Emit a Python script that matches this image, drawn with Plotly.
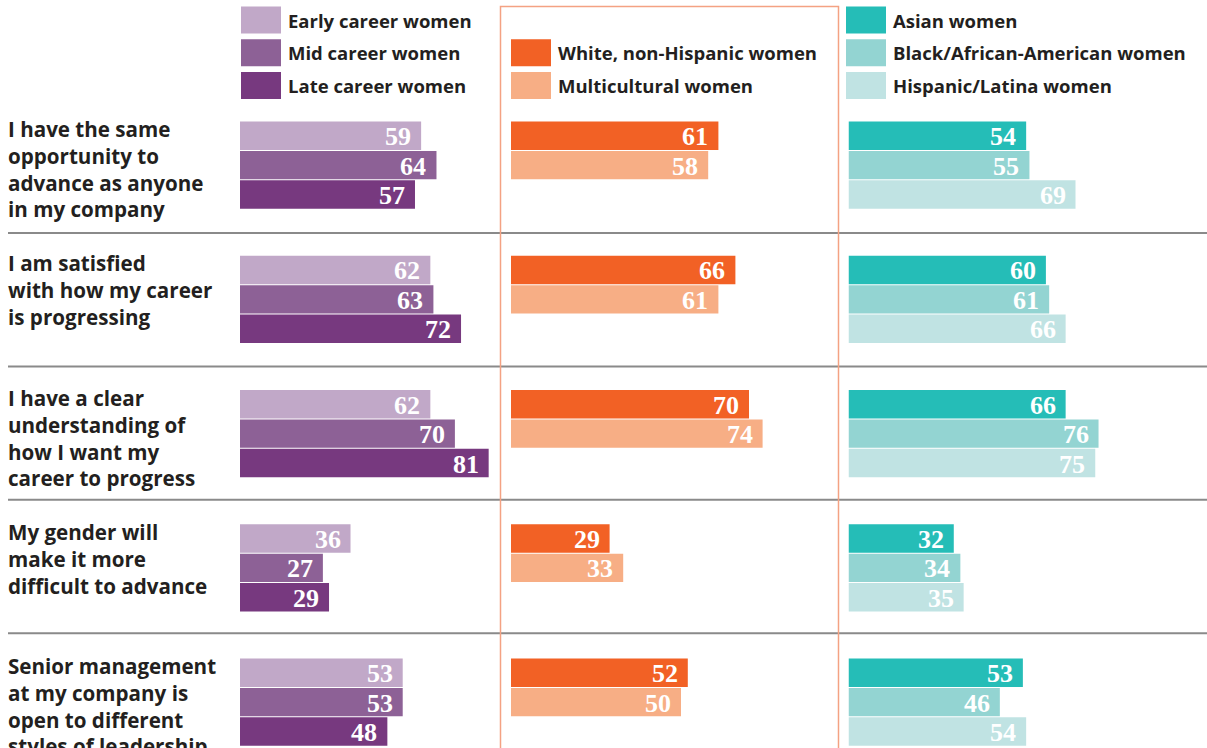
import plotly.graph_objects as go

# ---------------- data ----------------
questions = [
    "I have the same<br>opportunity to<br>advance as anyone<br>in my company",
    "I am satisfied<br>with how my career<br>is progressing",
    "I have a clear<br>understanding of<br>how I want my<br>career to progress",
    "My gender will<br>make it more<br>difficult to advance",
    "Senior management<br>at my company is<br>open to different<br>styles of leadership",
]

career_names = ["Early career women", "Mid career women", "Late career women"]
early = [59, 62, 62, 36, 53]
mid = [64, 63, 70, 27, 53]
late = [57, 72, 81, 29, 48]

ethnic_names = ["White, non-Hispanic women", "Multicultural women"]
white = [61, 66, 70, 29, 52]
multicultural = [58, 61, 74, 33, 50]

race_names = ["Asian women", "Black/African-American women", "Hispanic/Latina women"]
asian = [54, 60, 66, 32, 53]
black = [55, 61, 76, 34, 46]
hispanic = [69, 66, 75, 35, 54]

# ---------------- styling / layout ----------------
W, H = 1207, 748
career_colors = ["#c1a8c8", "#8d6196", "#77397f"]
ethnic_colors = ["#f26125", "#f7ae85"]
race_colors = ["#25bdb7", "#93d4d2", "#c0e3e3"]

TEXT = "#231f20"
SANS = "'Open Sans', 'Noto Sans', sans-serif"
SERIF = "'Liberation Serif', 'DejaVu Serif', serif"

GROUP_TOP0 = 121.0
GROUP_PITCH = 134.25
SLOT = 29.4
BAR_W = 28.4
SEP_TOP0 = 233.0
SEP_PITCH = 133.4

panels = [
    # axis, values, names, colors, px start, px end, px per unit, legend x, legend first slot
    ("x", [early, mid, late], career_names, career_colors, 240.0, 500.0, 3.07, 241, 0),
    ("x2", [white, multicultural], ethnic_names, ethnic_colors, 511.0, 838.0, 3.40, 511, 1),
    ("x3", [asian, black, hispanic], race_names, race_colors, 848.5, 1207.0, 3.29, 846, 0),
]

n_q = len(questions)
fig = go.Figure()
annotations = []
shapes = []

layout_axes = {}
for ax, series, names, colors, px0, px1, scale, lx, lslot in panels:
    axname = "xaxis" if ax == "x" else "xaxis" + ax[1:]
    layout_axes[axname] = dict(
        domain=[px0 / W, min(px1 / W, 1.0)],
        range=[0, (px1 - px0) / scale],
        visible=False, showgrid=False, zeroline=False, anchor="y", fixedrange=True,
    )
    for s, (vals, name, col) in enumerate(zip(series, names, colors)):
        ys = [GROUP_TOP0 + g * GROUP_PITCH + s * SLOT + SLOT / 2 for g in range(n_q)]
        fig.add_trace(go.Bar(
            x=vals, y=ys, orientation="h", width=BAR_W, name=name,
            marker=dict(color=col, line=dict(width=0)),
            xaxis=ax, yaxis="y", showlegend=False, hoverinfo="x+name",
        ))
        for v, yv in zip(vals, ys):
            annotations.append(dict(
                x=v, y=yv, xref=ax, yref="y", text=f"<b>{v}</b>", showarrow=False,
                xanchor="right", yanchor="middle", xshift=-8, yshift=-1,
                font=dict(family=SERIF, size=26, color="white"),
            ))
        # legend key
        ly0 = 6.5 + (lslot + s) * 32.8
        shapes.append(dict(type="rect", xref="paper", yref="y",
                           x0=lx / W, x1=(lx + 40) / W, y0=ly0, y1=ly0 + 27,
                           fillcolor=col, line=dict(width=0), layer="above"))
        annotations.append(dict(
            x=(lx + 45) / W, y=ly0 + 13.5, xref="paper", yref="y", text=name,
            showarrow=False, xanchor="left", yanchor="middle",
            font=dict(family=SANS, size=18.5, color=TEXT, weight=700),
        ))

# question labels
for g, q in enumerate(questions):
    annotations.append(dict(
        x=6 / W, y=GROUP_TOP0 + g * GROUP_PITCH - 8, xref="paper", yref="y",
        text=q, showarrow=False, xanchor="left", yanchor="top", align="left",
        font=dict(family=SANS, size=20.6, color=TEXT, weight=700),
    ))

# separators
for k in range(n_q - 1):
    yv = SEP_TOP0 + k * SEP_PITCH
    shapes.append(dict(type="line", xref="paper", yref="y", x0=8 / W, x1=1,
                       y0=yv, y1=yv, line=dict(color="#8a8a8a", width=2), layer="above"))

# orange frame around the middle panel
shapes.append(dict(type="rect", xref="paper", yref="y", x0=500.5 / W, x1=838.5 / W,
                   y0=6.5, y1=H + 20, line=dict(color="#f4a283", width=1.5),
                   fillcolor="rgba(0,0,0,0)", layer="above"))

fig.update_layout(
    width=W, height=H,
    margin=dict(l=0, r=0, t=0, b=0),
    paper_bgcolor="white", plot_bgcolor="white",
    barmode="overlay",
    yaxis=dict(range=[H, 0], domain=[0, 1], visible=False, showgrid=False,
               zeroline=False, fixedrange=True),
    annotations=annotations, shapes=shapes, showlegend=False,
    **layout_axes,
)

fig.write_html(
    "out.html",
    config={"displayModeBar": False},
    post_script="document.body.style.margin='0';document.body.style.overflow='hidden';",
)
